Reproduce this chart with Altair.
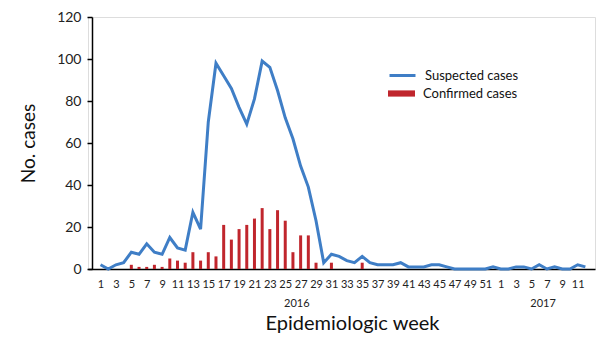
import altair as alt
import pandas as pd

weeks = list(range(1, 65))
suspected = [2, 0, 2, 3, 8, 7, 12, 8, 7, 15,
             10, 9, 27, 19, 70, 98, 92, 86, 77, 69,
             81, 99, 96, 85, 72, 62, 49, 39, 23, 3,
             7, 6, 4, 3, 6, 3, 2, 2, 2, 3,
             1, 1, 1, 2, 2, 1, 0, 0, 0, 0,
             0, 1, 0, 0, 1, 1, 0, 2, 0, 1,
             0, 0, 2, 1]
confirmed = [0, 0, 0, 0, 2, 1, 1, 2, 1, 5,
             4, 3, 8, 4, 8, 6, 21, 14, 19, 21,
             24, 29, 19, 28, 23, 8, 16, 16, 3, 0,
             3, 0, 0, 0, 3, 0, 0, 0, 0, 0,
             0, 0, 0, 0, 0, 0, 0, 0, 0, 0,
             0, 0, 0, 0, 0, 0, 0, 0, 0, 0,
             0, 0, 0, 0]
tick_weeks = list(range(1, 64, 2))
year_labels = ["2016", "2017"]
year_label_weeks = [26.5, 58.5]

FONT = "Lato"
BLUE = "#3F7EC6"
RED = "#C0262D"

df = pd.DataFrame({"week": weeks, "suspected": suspected, "confirmed": confirmed,
                   "s_series": "Suspected cases", "c_series": "Confirmed cases"})
years = pd.DataFrame({"week": year_label_weeks, "label": year_labels})

xscale = alt.Scale(domain=[0.02, 64.6], nice=False, zero=False)
yscale = alt.Scale(domain=[0, 120], nice=False)

xaxis = alt.Axis(values=tick_weeks,
                 labelExpr="datum.value > 52 ? datum.value - 52 : datum.value",
                 ticks=False, grid=False, domainColor="black", domainWidth=1.5,
                 labelFontSize=11, labelPadding=9, labelColor="#222",
                 labelOverlap=False, labelFlush=False, labelFont=FONT,
                 title="Epidemiologic week", titleFont=FONT, titleFontSize=20,
                 titleFontWeight="normal", titleColor="#111",
                 titleX=264, titleY=60, titleAlign="center", titleBaseline="alphabetic")
yaxis = alt.Axis(values=[0, 20, 40, 60, 80, 100, 120], grid=False, offset=-4,
                 domainColor="black", domainWidth=1.5, tickColor="black", tickSize=5,
                 tickWidth=1.5, labelFontSize=14, labelPadding=6, labelColor="#222",
                 labelFont=FONT, labelOverlap=False,
                 title="No. cases", titleFont=FONT, titleFontSize=19,
                 titleFontWeight="normal", titleColor="#111",
                 titleX=-64, titleY=126, titleAngle=270, titleAlign="center",
                 titleBaseline="middle")

X = alt.X("week:Q", scale=xscale, axis=xaxis)

bars = alt.Chart(df).mark_bar(size=3).encode(
    x=X,
    y=alt.Y("confirmed:Q", scale=yscale, axis=yaxis),
    fill=alt.Fill("c_series:N", scale=alt.Scale(domain=["Confirmed cases"], range=[RED]),
                  legend=alt.Legend(orient="none", legendX=300, legendY=63, title=None,
                                    labelFontSize=13, labelFont=FONT, labelColor="#111",
                                    symbolType="M-1,-0.23H1V0.23H-1Z", symbolSize=729,
                                    symbolStrokeWidth=0, labelOffset=8, padding=0,
                                    labelLimit=300)),
)

line = alt.Chart(df).mark_line(strokeWidth=3).encode(
    x=X,
    y=alt.Y("suspected:Q", scale=yscale, axis=yaxis),
    color=alt.Color("s_series:N", scale=alt.Scale(domain=["Suspected cases"], range=[BLUE]),
                    legend=alt.Legend(orient="none", legendX=300, legendY=44, title=None,
                                      labelFontSize=13, labelFont=FONT, labelColor="#111",
                                      symbolType="stroke", symbolSize=676,
                                      symbolStrokeWidth=3, labelOffset=8, padding=0,
                                      labelLimit=300)),
)

year_text = alt.Chart(years).mark_text(font=FONT, fontSize=11, color="#222",
                                       baseline="alphabetic", align="center").encode(
    x=X,
    y=alt.value(290),
    text="label:N",
)

chart = alt.layer(bars, line, year_text).properties(
    width=507, height=252,
    autosize=alt.AutoSizeParams(type="none"),
    padding={"left": 88, "top": 17, "right": 5, "bottom": 76},
).configure_view(stroke=None).configure(font=FONT)

chart.save("out.html", embed_options={"renderer": "svg", "actions": False})
